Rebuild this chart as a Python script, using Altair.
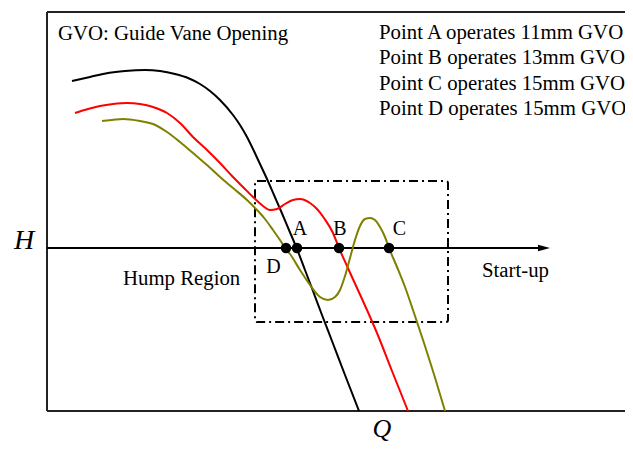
import altair as alt
import pandas as pd

# ---- data (Q, H in arbitrary schematic units) ----
black_q = [25, 43, 61, 78, 98, 113, 128, 141, 153, 163, 173, 186, 193, 200, 206, 213, 220, 227, 234, 242, 250, 258, 266, 275, 285, 298, 312]
black_h = [330, 334, 338, 340, 341, 340, 337, 333, 327, 320, 311, 296, 286, 274, 262, 247, 232, 216, 200, 181, 162, 141, 120, 96, 70, 36, 0]

red_q = [28, 41, 53, 66, 80, 93, 106, 120, 133, 146, 160, 173, 186, 196, 206, 216, 223, 230, 238, 246, 253, 263, 270, 277, 286, 292, 300, 310, 320, 330, 345, 361]
red_h = [298, 302, 305, 307, 308, 307, 304, 298, 288, 274, 261, 248, 234, 224, 214, 205, 201, 202, 207, 211, 212, 208, 202, 193, 178, 163, 145, 123, 101, 78, 40, 0]

olive_q = [55, 65, 76, 93, 106, 120, 133, 146, 160, 173, 186, 200, 210, 218, 226, 233, 239, 243, 253, 263, 273, 281, 288, 293, 298, 303, 308, 313, 318, 323, 328, 333, 338, 342, 350, 358, 366, 371, 377, 385, 398]
olive_h = [290, 291, 292, 290, 287, 279, 269, 258, 246, 234, 223, 211, 201, 192, 181, 171, 162, 157, 141, 126, 114, 111, 114, 121, 135, 153, 171, 185, 192, 193, 191, 184, 174, 163, 144, 124, 101, 86, 68, 43, 0]

point_names = ["D", "A", "B", "C"]
point_q = [239, 250, 292, 342]
point_h = [163, 163, 163, 163]

label_names = ["A", "B", "C", "D"]
label_q = [253, 293, 352.5, 226.5]
label_h = [176, 176, 176, 138]

note_lines = ["Point A operates 11mm GVO", "Point B operates 13mm GVO",
              "Point C operates 15mm GVO", "Point D operates 15mm GVO"]
note_h = [372.5, 347, 321.5, 296]

hump_box = {"q": 208, "q2": 401, "h": 89, "h2": 230}
startup_line_h = 163
startup_end_q = 497

curve_names = ["black", "red", "olive"]
curve_colors = ["#000000", "#ff0000", "#808000"]

# ---- tables ----
rows = []
for name, qs, hs in zip(curve_names, [black_q, red_q, olive_q], [black_h, red_h, olive_h]):
    for q, h in zip(qs, hs):
        rows.append({"Q": q, "H": h, "curve": name})
curves = pd.DataFrame(rows)

pts = pd.DataFrame({"Q": point_q, "H": point_h, "name": point_names})
labels = pd.DataFrame({"Q": label_q, "H": label_h, "name": label_names})
notes = pd.DataFrame({"Q": [332] * 4, "H": note_h, "text": note_lines})

XS = alt.Scale(domain=[0, 578], nice=False, zero=False)
YS = alt.Scale(domain=[0, 399], nice=False, zero=False)

def X(f="Q"):
    return alt.X(f"{f}:Q", scale=XS, axis=None)

def Y(f="H"):
    return alt.Y(f"{f}:Q", scale=YS, axis=None)

SERIF = "Liberation Serif"
FS = 20.8

frame_df = pd.DataFrame({
    "Q": [0, 0, 0], "Q2": [578, 0, 578],
    "H": [399, 0, 0], "H2": [399, 399, 0],
})
frame = alt.Chart(frame_df).mark_rule(color="#222222", strokeWidth=2).encode(
    x=X(), x2="Q2:Q", y=Y(), y2="H2:Q")

box = alt.Chart(pd.DataFrame([hump_box])).mark_rect(
    fill=None, fillOpacity=0, stroke="black", strokeWidth=2,
    strokeDash=[9, 4, 2, 4], cornerRadius=2).encode(
    x=alt.X("q:Q", scale=XS, axis=None), x2="q2:Q",
    y=alt.Y("h:Q", scale=YS, axis=None), y2="h2:Q")

axis_line = alt.Chart(pd.DataFrame({"Q": [0], "Q2": [startup_end_q], "H": [startup_line_h]})).mark_rule(
    color="black", strokeWidth=2).encode(x=X(), x2="Q2:Q", y=Y())

arrow = alt.Chart(pd.DataFrame({"Q": [startup_end_q], "H": [startup_line_h]})).mark_point(
    shape="M-1,-0.55L1,0L-1,0.55Z", filled=True, size=144, color="black", opacity=1).encode(
    x=X(), y=Y())

lines = alt.Chart(curves).mark_line(strokeWidth=2, interpolate="monotone").encode(
    x=X(), y=Y(),
    color=alt.Color("curve:N", scale=alt.Scale(domain=curve_names, range=curve_colors), legend=None))

dots = alt.Chart(pts).mark_circle(size=110, color="black", opacity=1).encode(x=X(), y=Y())

lab = alt.Chart(labels).mark_text(font=SERIF, fontSize=20, align="center", baseline="alphabetic",
                                  color="black").encode(x=X(), y=Y(), text="name:N")

note = alt.Chart(notes).mark_text(font=SERIF, fontSize=FS, align="left", baseline="alphabetic",
                                  color="black").encode(x=X(), y=Y(), text="text:N")

def single(text, q, h, size=FS, align="left", style="normal"):
    return alt.Chart(pd.DataFrame({"Q": [q], "H": [h], "t": [text]})).mark_text(
        font=SERIF, fontSize=size, align=align, baseline="alphabetic", fontStyle=style,
        color="black").encode(x=X(), y=Y(), text="t:N")

gvo = single("GVO: Guide Vane Opening", 11, 371)
hump = single("Hump Region", 76, 126)
start = single("Start-up", 435, 134)
h_lab = single("H", -23, 162, size=28, align="center", style="italic")
q_lab = single("Q", 335, -26, size=26, align="center", style="italic")

chart = alt.layer(frame, box, axis_line, arrow, lines, dots, lab, note, gvo, hump, start, h_lab, q_lab).properties(
    width=578, height=399,
    autosize="none",
    padding={"left": 39, "top": 4, "right": 0, "bottom": 31},
).configure_view(stroke=None)

chart.save("out.html", embed_options={"renderer": "svg", "actions": False})
